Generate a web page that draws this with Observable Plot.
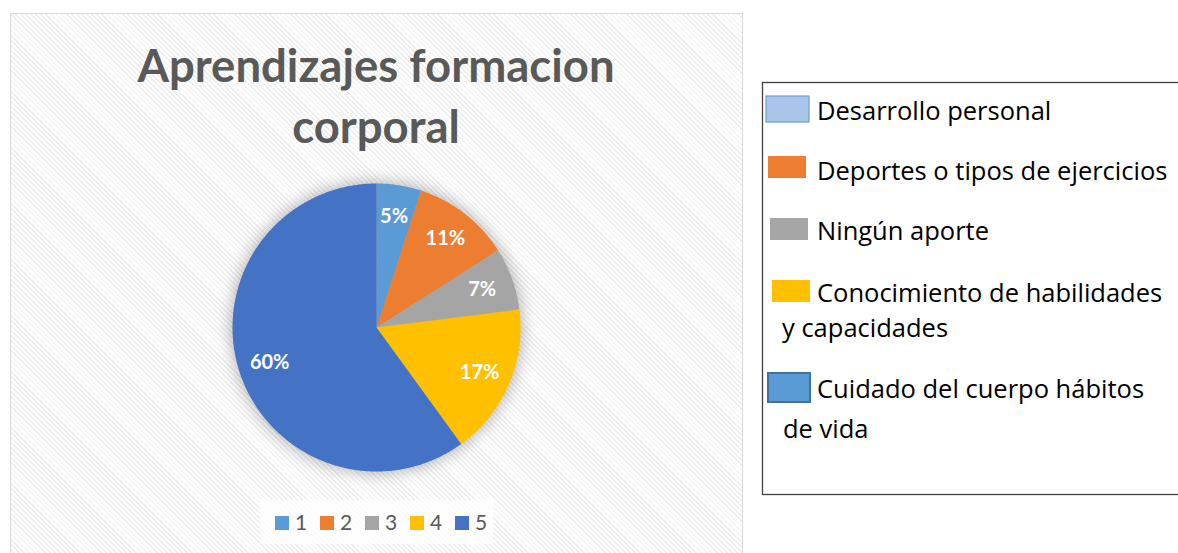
<!DOCTYPE html>
<html><head><meta charset="utf-8">
<script src="https://cdn.jsdelivr.net/npm/d3@7"></script>
<script src="https://cdn.jsdelivr.net/npm/@observablehq/plot@0.6"></script>
<style>
body{margin:0;background:#fff;}
#page{position:relative;width:1178px;height:553px;overflow:hidden;font-family:Lato,"Open Sans",sans-serif;}
#frame{position:absolute;left:10px;top:13px;width:731px;height:560px;border:1px solid #d9d9d9;background:repeating-linear-gradient(45deg,#ffffff 0px,#ffffff 2.4px,#eeeeee 2.4px,#eeeeee 3.6px);}
#overlay{position:absolute;left:0;top:0;}
#pie{position:absolute;left:226px;top:177px;}
</style>
</head><body>
<div id="page"><div id="frame"></div><svg id="overlay" width="1178" height="553"></svg><div id="pie"></div></div>
<script>
const categories = ["1","2","3","4","5"];
const values = [5, 11, 7, 17, 60];
const labels = ["5%","11%","7%","17%","60%"];
const names = [["Desarrollo personal"],["Deportes o tipos de ejercicios"],["Ningún aporte"],["Conocimiento de habilidades","y capacidades"],["Cuidado del cuerpo hábitos","de vida"]];
const colors = ["#5B9BD5","#ED7D31","#A5A5A5","#FFC000","#4472C4"];
const titleLines = ["Aprendizajes formacion","corporal"];

// pie geometry from data
const arcs = d3.pie().sort(null)(values);
const pts = [];
const lab = [];
arcs.forEach((a,i)=>{
  const cat = categories[i];
  pts.push({cat,x:0,y:0});
  const n = Math.max(2, Math.ceil((a.endAngle-a.startAngle)/(Math.PI/180)));
  for(let k=0;k<=n;k++){
    const t = a.startAngle + (a.endAngle-a.startAngle)*k/n;
    pts.push({cat,x:Math.sin(t),y:Math.cos(t)});
  }
  pts.push({cat,x:0,y:0});
  const m = (a.startAngle+a.endAngle)/2;
  lab.push({cat,label:labels[i],x:0.78*Math.sin(m),y:0.78*Math.cos(m)});
});
const R = 150/144;
const chart = Plot.plot({
  width:300,height:300,margin:0,
  style:{background:"transparent",overflow:"visible"},
  x:{domain:[-R,R],axis:null},
  y:{domain:[-R,R],axis:null},
  color:{domain:categories,range:colors},
  marks:[
    Plot.line(pts,{x:"x",y:"y",z:"cat",fill:"cat",stroke:"none"}),
    Plot.text(lab,{x:"x",y:"y",text:"label",fill:"white",fontSize:20,fontWeight:"bold",fontFamily:"Lato, 'Open Sans', sans-serif"})
  ]
});
document.getElementById("pie").appendChild(chart);
const lineG = chart.querySelector('g[aria-label="line"]');
if(lineG) lineG.style.filter = "drop-shadow(0px 0px 9px rgba(0,0,0,0.35))";

// overlay: title and legends
const ov = d3.select("#overlay");
titleLines.forEach((t,i)=>{
  ov.append("text").attr("x",376).attr("y",82+i*61).attr("text-anchor","middle")
    .attr("font-size",45.5).attr("font-weight","bold").attr("fill","#595959").text(t);
});
// bottom legend
ov.append("rect").attr("x",260).attr("y",500).attr("width",233).attr("height",44).attr("fill","rgba(255,255,255,0.75)");
categories.forEach((c,i)=>{
  ov.append("rect").attr("x",275+i*45).attr("y",516).attr("width",14).attr("height",14).attr("fill",colors[i]);
  ov.append("text").attr("x",295+i*45).attr("y",530).attr("font-size",21).attr("fill","#595959").text(c);
});
// right legend box
ov.append("rect").attr("x",762.5).attr("y",82.5).attr("width",430).attr("height",412).attr("fill","white").attr("stroke","#404040").attr("stroke-width",1.3);
const sw = [
  {x:766,y:96,w:43,h:26,fill:"#a9c5e9",stroke:"#6d9fd6",sw:1.2},
  {x:768,y:156,w:38,h:22,fill:colors[1],stroke:"none",sw:0},
  {x:770,y:218,w:38,h:22,fill:colors[2],stroke:"none",sw:0},
  {x:772,y:280,w:38,h:22,fill:colors[3],stroke:"none",sw:0},
  {x:768,y:373,w:42,h:29,fill:"#5B9BD5",stroke:"#41719C",sw:2}
];
const textPos = [[[817,120]],[[817,180]],[[817,240]],[[817,302],[782,337]],[[817,398],[783,438]]];
names.forEach((lines,i)=>{
  const s = sw[i];
  ov.append("rect").attr("x",s.x).attr("y",s.y).attr("width",s.w).attr("height",s.h).attr("fill",s.fill).attr("stroke",s.stroke).attr("stroke-width",s.sw);
  lines.forEach((l,j)=>{
    ov.append("text").attr("x",textPos[i][j][0]).attr("y",textPos[i][j][1]).attr("font-size",25.5).attr("font-family","'Open Sans', sans-serif").attr("fill","#000").text(l);
  });
});
</script>
</body></html>
